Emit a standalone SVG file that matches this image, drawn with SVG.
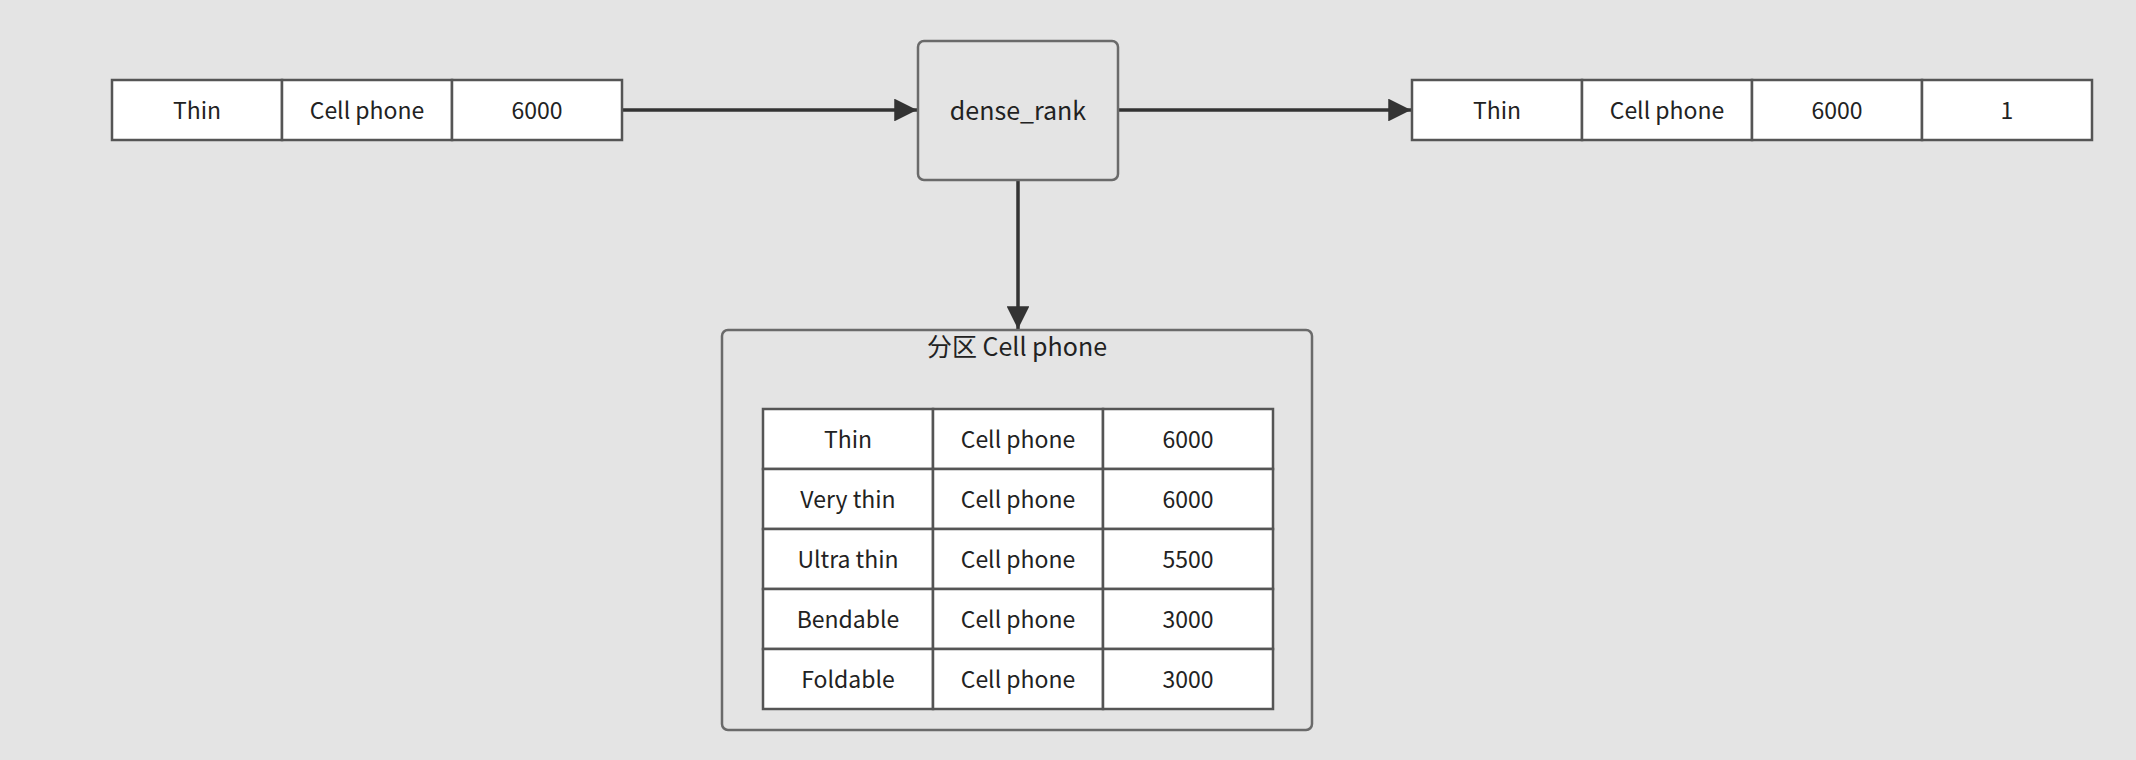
<svg xmlns="http://www.w3.org/2000/svg" width="2136" height="760" viewBox="0 0 2136 760">
<style>
.bg{fill:#e4e4e4}
.cell{fill:#ffffff;stroke:#555555;stroke-width:2.5}
.box{fill:#e4e4e4;stroke:#6a6a6a;stroke-width:2.5}
.t{font-family:"Noto Sans CJK SC","Noto Sans",sans-serif;font-size:23px;fill:#222222;text-anchor:middle;dominant-baseline:central}
.conn{stroke:#333333;stroke-width:3.5;fill:none}
</style>
<defs>
<marker id="arr" viewBox="0 0 10 10" refX="10" refY="5" markerWidth="6.5" markerHeight="6.5" markerUnits="strokeWidth" orient="auto">
<path d="M0,0 L10,5 L0,10 Z" fill="#333333"/>
</marker>
</defs>
<rect class="bg" x="0" y="0" width="2136" height="760"/>

<g id="connectors">
<line class="conn" x1="623" y1="110" x2="917" y2="110" marker-end="url(#arr)"/>
<line class="conn" x1="1119" y1="110" x2="1411" y2="110" marker-end="url(#arr)"/>
<line class="conn" x1="1018" y1="181" x2="1018" y2="329" marker-end="url(#arr)"/>
</g>

<g id="input-row">
<rect class="cell" x="112" y="80" width="170" height="60"/>
<rect class="cell" x="282" y="80" width="170" height="60"/>
<rect class="cell" x="452" y="80" width="170" height="60"/>
<text class="t" x="197" y="109">Thin</text>
<text class="t" x="367" y="109">Cell phone</text>
<text class="t" x="537" y="109">6000</text>
</g>

<g id="dense-rank">
<rect class="box" x="918" y="41" width="200" height="139" rx="6"/>
<text class="t" x="1018" y="109" style="font-size:25px">dense_rank</text>
</g>

<g id="output-row">
<rect class="cell" x="1412" y="80" width="170" height="60"/>
<rect class="cell" x="1582" y="80" width="170" height="60"/>
<rect class="cell" x="1752" y="80" width="170" height="60"/>
<rect class="cell" x="1922" y="80" width="170" height="60"/>
<text class="t" x="1497" y="109">Thin</text>
<text class="t" x="1667" y="109">Cell phone</text>
<text class="t" x="1837" y="109">6000</text>
<text class="t" x="2007" y="109">1</text>
</g>

<g id="partition">
<rect class="box" x="722" y="330" width="590" height="400" rx="6"/>
<text class="t" x="1017" y="345" style="font-size:25px">分区 Cell phone</text>
<g id="partition-table">
<rect class="cell" x="763" y="409" width="170" height="60"/>
<rect class="cell" x="933" y="409" width="170" height="60"/>
<rect class="cell" x="1103" y="409" width="170" height="60"/>
<rect class="cell" x="763" y="469" width="170" height="60"/>
<rect class="cell" x="933" y="469" width="170" height="60"/>
<rect class="cell" x="1103" y="469" width="170" height="60"/>
<rect class="cell" x="763" y="529" width="170" height="60"/>
<rect class="cell" x="933" y="529" width="170" height="60"/>
<rect class="cell" x="1103" y="529" width="170" height="60"/>
<rect class="cell" x="763" y="589" width="170" height="60"/>
<rect class="cell" x="933" y="589" width="170" height="60"/>
<rect class="cell" x="1103" y="589" width="170" height="60"/>
<rect class="cell" x="763" y="649" width="170" height="60"/>
<rect class="cell" x="933" y="649" width="170" height="60"/>
<rect class="cell" x="1103" y="649" width="170" height="60"/>
<text class="t" x="848" y="438">Thin</text>
<text class="t" x="1018" y="438">Cell phone</text>
<text class="t" x="1188" y="438">6000</text>
<text class="t" x="848" y="498">Very thin</text>
<text class="t" x="1018" y="498">Cell phone</text>
<text class="t" x="1188" y="498">6000</text>
<text class="t" x="848" y="558">Ultra thin</text>
<text class="t" x="1018" y="558">Cell phone</text>
<text class="t" x="1188" y="558">5500</text>
<text class="t" x="848" y="618">Bendable</text>
<text class="t" x="1018" y="618">Cell phone</text>
<text class="t" x="1188" y="618">3000</text>
<text class="t" x="848" y="678">Foldable</text>
<text class="t" x="1018" y="678">Cell phone</text>
<text class="t" x="1188" y="678">3000</text>
</g>
</g>
</svg>
